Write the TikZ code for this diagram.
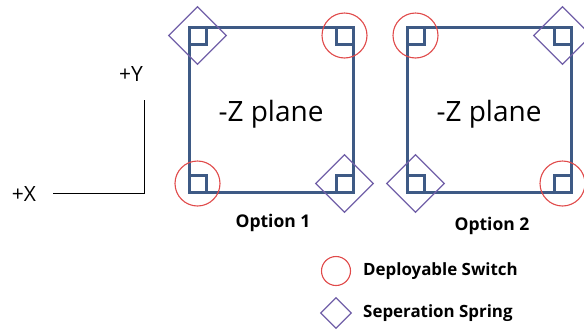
\documentclass[tikz,border=0pt]{standalone}
\usepackage{fontspec}
\setmainfont{Open Sans}
\usetikzlibrary{shapes.geometric}
\definecolor{planeblue}{HTML}{3E5A85}
\definecolor{switchred}{HTML}{E04A4A}
\definecolor{springviolet}{HTML}{7160A8}
\tikzset{
  plane/.style={draw=planeblue, line width=3pt, minimum width=164pt, minimum height=165pt,
    inner sep=0pt, outer sep=0pt},
  planetext/.style={font=\fontsize{28}{32}\selectfont, yshift=-5pt},
  cornerbox/.style={draw=planeblue, line width=3pt},
  switch/.style={circle, draw=switchred, line width=1.1pt, minimum size=#1, inner sep=0pt},
  spring/.style={diamond, draw=springviolet, line width=1.3pt, minimum size=#1, inner sep=0pt, aspect=1},
  caption/.style={font=\bfseries\fontsize{17.5}{20}\selectfont},
  axislbl/.style={font=\fontsize{21}{24}\selectfont},
  legendlbl/.style={font=\bfseries\fontsize{16.9}{20}\selectfont, anchor=west, inner sep=0pt}
}
\begin{document}
\begin{tikzpicture}[x=1pt, y=-1pt]
  \useasboundingbox (0,0) rectangle (584,330);

  % coordinate axes
  \coordinate (origin) at (144,193);
  \coordinate (ytip) at (144,100);
  \coordinate (xtip) at (53,193);
  \draw[line width=0.9pt] (ytip) -- (origin) -- (xtip);
  \node[axislbl] (ylbl) at (131,74) {+Y};
  \node[axislbl] (xlbl) at (24,194) {+X};

  % the two -Z plane layouts
  \node[plane] (p1) at (271,109.5) {};
  \node[plane] (p2) at (489,109.5) {};
  \node[planetext] (t1) at (p1) {-Z plane};
  \node[planetext] (t2) at (p2) {-Z plane};

  % small corner squares
  \foreach \p in {p1,p2}{
    \draw[cornerbox] (\p.north west) rectangle ++(17,17);
    \draw[cornerbox] (\p.north east) rectangle ++(-17,17);
    \draw[cornerbox] (\p.south west) rectangle ++(17,-17);
    \draw[cornerbox] (\p.south east) rectangle ++(-17,-17);
  }

  % option 1 markers
  \node[spring=58pt] (s1a) at ([shift={(8.5,8.5)}]p1.north west) {};
  \node[switch=45pt] (d1a) at ([shift={(-8.5,8.5)}]p1.north east) {};
  \node[switch=45pt] (d1b) at ([shift={(8.5,-8.5)}]p1.south west) {};
  \node[spring=58pt] (s1b) at ([shift={(-8.5,-8.5)}]p1.south east) {};

  % option 2 markers
  \node[switch=45pt] (d2a) at ([shift={(8.5,8.5)}]p2.north west) {};
  \node[spring=58pt] (s2a) at ([shift={(-8.5,8.5)}]p2.north east) {};
  \node[spring=58pt] (s2b) at ([shift={(8.5,-8.5)}]p2.south west) {};
  \node[switch=45pt] (d2b) at ([shift={(-8.5,-8.5)}]p2.south east) {};

  % captions
  \node[caption] (c1) at (273,223) {Option 1};
  \node[caption] (c2) at (492,226) {Option 2};

  % legend
  \node[switch=29pt] (lgsw) at (336,271) {};
  \node[spring=31pt] (lgsp) at (336,313) {};
  \node[legendlbl] (lgswt) at (363,271) {Deployable Switch};
  \node[legendlbl] (lgspt) at (363,313) {Seperation Spring};
\end{tikzpicture}
\end{document}
